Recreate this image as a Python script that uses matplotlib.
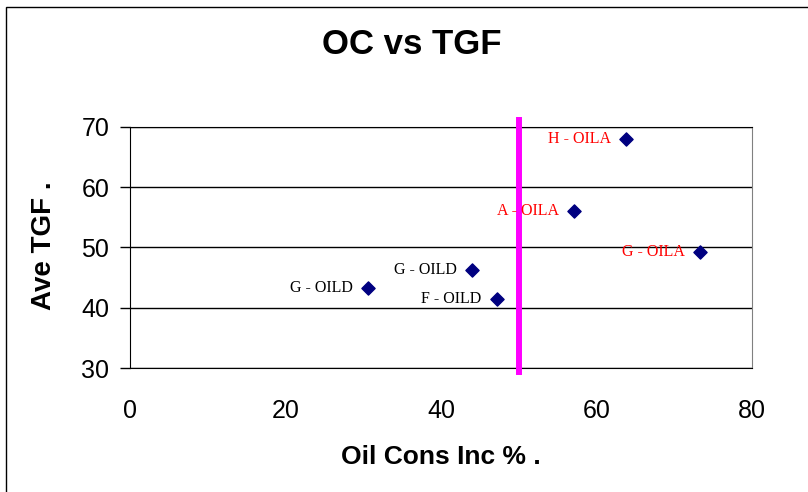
import matplotlib.pyplot as plt
from matplotlib.patches import Rectangle

# data
oil_cons = [63.8, 57.1, 73.3, 44.0, 47.2, 30.6]
ave_tgf = [68.0, 56.1, 49.3, 46.3, 41.5, 43.3]
labels = ['H - OILA', 'A - OILA', 'G - OILA', 'G - OILD', 'F - OILD', 'G - OILD']
label_colors = ['red', 'red', 'red', 'black', 'black', 'black']
threshold = 50

plt.rcParams['font.family'] = ['Liberation Sans', 'DejaVu Sans']

fig = plt.figure(figsize=(8.08, 4.92), dpi=100)
fig.patches.append(Rectangle((6 / 808, -0.1), 1.2, 1 - 7 / 492 + 0.1,
                             transform=fig.transFigure, fill=False,
                             edgecolor='black', linewidth=1))

ax = fig.add_axes([130 / 808, 1 - 368 / 492, 622 / 808, 241 / 492])
ax.set_xlim(0, 80)
ax.set_ylim(30, 70)
ax.set_xticks(range(0, 81, 20))
ax.set_yticks(range(30, 71, 10))
ax.yaxis.grid(True, color='black', linewidth=1)
ax.set_axisbelow(True)
ax.tick_params(axis='y', length=7, width=1, pad=8, labelsize=18)
ax.tick_params(axis='x', length=0, pad=22, labelsize=18)
for s in ['left', 'top', 'bottom']:
    ax.spines[s].set_color('black')
ax.spines['right'].set_color('gray')

ax.plot([threshold, threshold], [29.3, 71.1], color='#FF00FF', linewidth=4.3,
        clip_on=False, zorder=3)
ax.scatter(oil_cons, ave_tgf, marker='D', s=45, color='#000080', zorder=4)

for x, y, t, c in zip(oil_cons, ave_tgf, labels, label_colors):
    ax.annotate(t, (x, y), xytext=(-11, 0), textcoords='offset points',
                ha='right', va='center', fontsize=11.5, color=c,
                family=['Liberation Serif'], zorder=5)

fig.text(412 / 808, 1 - 45 / 492, 'OC vs TGF', ha='center', va='center',
         fontsize=25, fontweight='bold')
fig.text(441 / 808, 1 - 457 / 492, 'Oil Cons Inc % .', ha='center', va='center',
         fontsize=19, fontweight='bold')
fig.text(44 / 808, 1 - 246 / 492, 'Ave TGF .', ha='center', va='center',
         rotation=90, fontsize=20, fontweight='bold')

fig.savefig('out.png', dpi=100)
